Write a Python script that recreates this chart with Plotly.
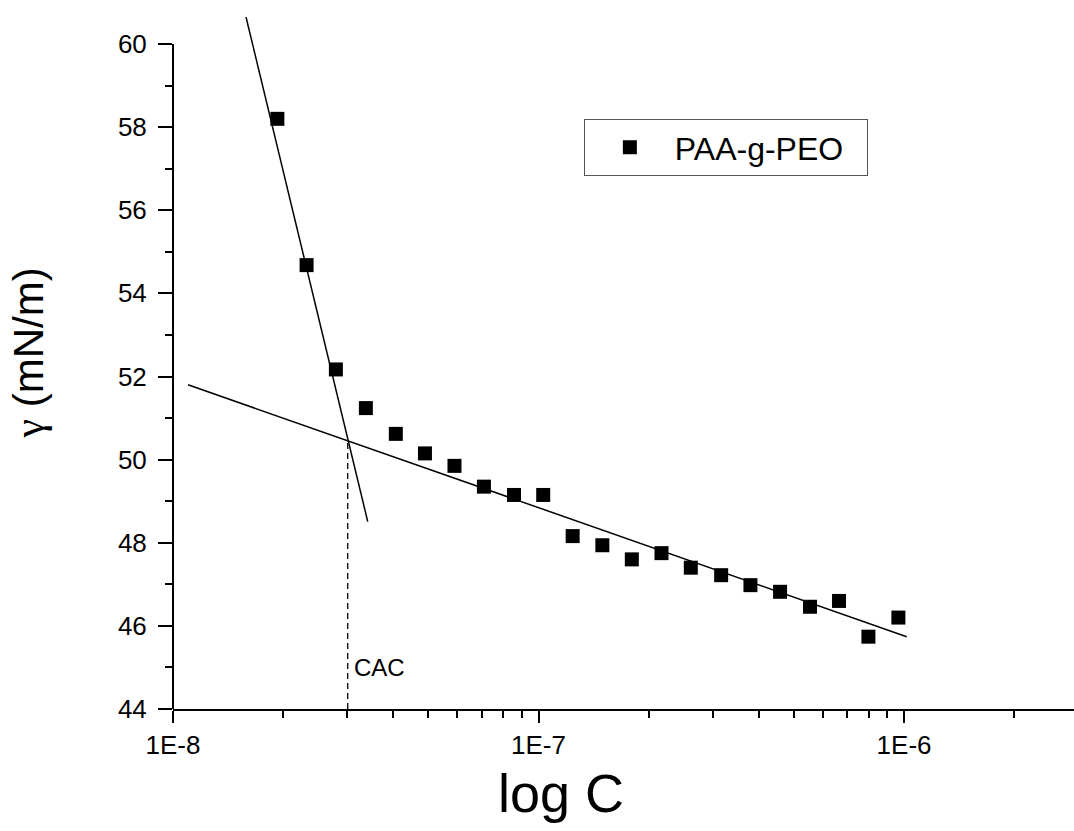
import plotly.graph_objects as go
import numpy as np

# Measured data (concentration, surface tension)
conc = [1.93e-8, 2.32e-8, 2.79e-8, 3.37e-8, 4.07e-8, 4.89e-8, 5.89e-8, 7.09e-8,
        8.57e-8, 1.03e-7, 1.24e-7, 1.495e-7, 1.80e-7, 2.17e-7, 2.61e-7, 3.16e-7,
        3.80e-7, 4.58e-7, 5.53e-7, 6.64e-7, 7.99e-7, 9.65e-7]
gamma = [58.2, 54.68, 52.17, 51.24, 50.62, 50.15, 49.85, 49.35,
         49.15, 49.15, 48.16, 47.94, 47.60, 47.75, 47.40, 47.22,
         46.98, 46.82, 46.46, 46.60, 45.74, 46.20]

# Fit lines
steep_x = [1.584e-8, 3.41e-8]
steep_y = [60.65, 48.51]
flat_x = [1.099e-8, 1.017e-6]
flat_y = [51.80, 45.74]
cac_x = [3.006e-8, 3.006e-8]
cac_y = [44.0, 50.43]

x_ticks = [1e-8, 1e-7, 1e-6]
x_ticktext = ["1E-8", "1E-7", "1E-6"]

FONT = "Arial, Liberation Sans, sans-serif"

fig = go.Figure()
fig.add_trace(go.Scatter(x=steep_x, y=steep_y, mode="lines",
                         line=dict(color="black", width=1.5), showlegend=False))
fig.add_trace(go.Scatter(x=flat_x, y=flat_y, mode="lines",
                         line=dict(color="black", width=1.5), showlegend=False))
fig.add_trace(go.Scatter(x=cac_x, y=cac_y, mode="lines",
                         line=dict(color="black", width=1.3, dash="6px,4px"),
                         showlegend=False))
fig.add_trace(go.Scatter(x=conc, y=gamma, mode="markers", name="PAA-g-PEO  ",
                         marker=dict(symbol="square", size=14, color="black")))

minor_vals = [k * 10.0 ** e for e in (-8, -7, -6) for k in range(2, 10)]

fig.update_layout(
    width=1074, height=831,
    margin=dict(l=173, r=0, t=17, b=122),
    paper_bgcolor="white", plot_bgcolor="white",
    font=dict(family=FONT, color="black", size=26),
    xaxis=dict(type="log", range=[-8, -5.535], showgrid=False, zeroline=False,
               showline=True, linecolor="black", linewidth=2,
               tickmode="array", tickvals=x_ticks, ticktext=x_ticktext,
               ticks="outside", ticklen=12, tickwidth=2, tickcolor="black",
               tickfont=dict(size=26),
               minor=dict(tickmode="array", tickvals=minor_vals, ticks="outside",
                          ticklen=7, tickwidth=2, tickcolor="black", showgrid=False)),
    yaxis=dict(range=[44, 60.65], showgrid=False, zeroline=False, showline=False,
               tickmode="linear", tick0=44, dtick=2,
               ticks="outside", ticklen=14, tickwidth=2, tickcolor="black",
               tickfont=dict(size=26), ticklabelstandoff=6,
               minor=dict(dtick=1, tick0=44, ticks="outside", ticklen=7, tickwidth=2,
                          tickcolor="black", showgrid=False)),
    legend=dict(x=0.456, y=0.8526, xanchor="left", yanchor="top",
                bordercolor="#555", borderwidth=1, bgcolor="white",
                font=dict(size=32, family=FONT), itemwidth=80),
    showlegend=True,
)

# y axis line only spanning the tick range
fig.add_shape(type="line", xref="paper", yref="y", x0=0, x1=0, y0=44, y1=60,
              line=dict(color="black", width=2))

fig.add_annotation(x=np.log10(3.006e-8), y=45.0, xref="x", yref="y", text="CAC",
                   showarrow=False, xanchor="left", xshift=4,
                   font=dict(size=24, family=FONT))
fig.add_annotation(text="log C", xref="paper", yref="paper", x=0.431, y=-0.075,
                   xanchor="center", yanchor="top", showarrow=False,
                   font=dict(size=54, family=FONT))
fig.add_annotation(text="<span style=\"font-family:'Liberation Serif', serif\">γ</span> (mN/m)",
                   xref="paper", yref="paper", x=-0.16, y=0.515,
                   xanchor="center", yanchor="middle", textangle=-90, showarrow=False,
                   font=dict(size=42, family=FONT))

fig.write_html("out.html")
